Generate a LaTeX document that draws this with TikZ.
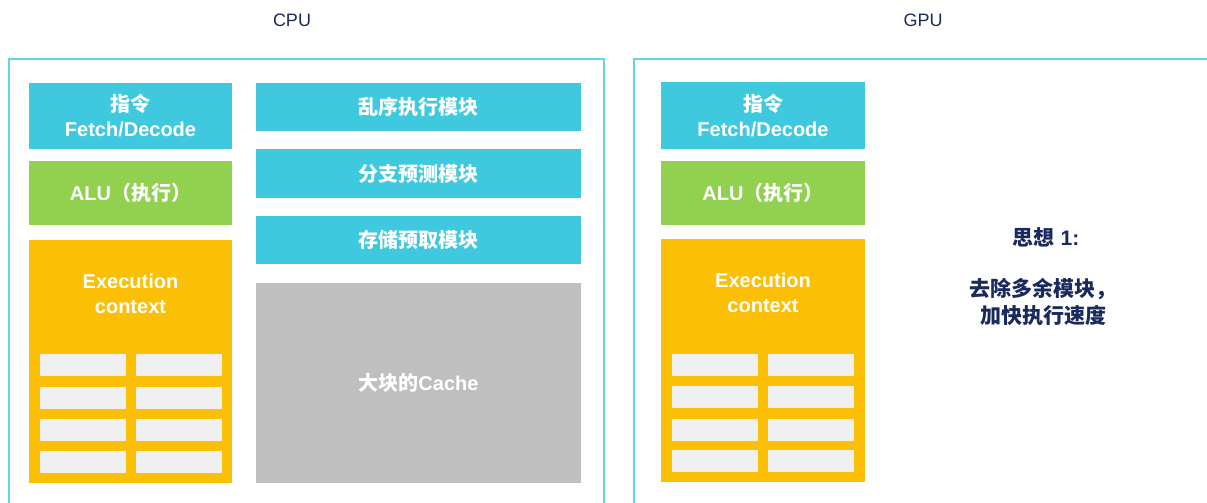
\documentclass[tikz,border=0pt]{standalone}
\usepackage{fontspec}
\setmainfont{Liberation Sans}
\newfontfamily\cjk{Noto Sans CJK SC}
\newcommand\zh[1]{{\cjk #1}}
\definecolor{cyanbox}{HTML}{3FC9DE}
\definecolor{greenbox}{HTML}{92D050}
\definecolor{amberbox}{HTML}{FBBF05}
\definecolor{cellgrey}{HTML}{F0F0F0}
\definecolor{cachegrey}{HTML}{BFBFBF}
\definecolor{framecol}{HTML}{62D4E6}
\definecolor{navy}{HTML}{1B2A5C}
\begin{document}
\begin{tikzpicture}[x=1pt,y=-1pt,
  box/.style={draw=none, inner sep=0pt, text=white, align=center,
    font=\fontsize{20}{25}\selectfont\bfseries},
  cellbox/.style={draw=none, fill=cellgrey, inner sep=0pt, minimum width=86pt, minimum height=22pt},
  frame/.style={draw=framecol, line width=1.6pt},
  title/.style={text=navy, font=\fontsize{18}{22}\selectfont},
  idea/.style={text=navy, align=center, font=\fontsize{21}{27}\selectfont\bfseries}]
\useasboundingbox (0,0) rectangle (1207,503);
\clip (0,0) rectangle (1207,503);
% frames
\node[frame, minimum width=595pt, minimum height=470pt, inner sep=0pt, anchor=north west] (cpuframe) at (8,58) {};
\node[frame, minimum width=600pt, minimum height=470pt, inner sep=0pt, anchor=north west] (gpuframe) at (633,58) {};
\node[title] (cputitle) at (292,20) {CPU};
\node[title] (gputitle) at (923,20) {GPU};
% CPU left column
\node[box, fill=cyanbox, minimum width=203pt, minimum height=66pt] (cfetch) at (130.5,116) {\zh{指令}\\Fetch/Decode};
\node[box, fill=greenbox, minimum width=203pt, minimum height=64pt] (calu) at (130.5,193) {ALU\zh{（执行）}};
\node[box, fill=amberbox, minimum width=203pt, minimum height=243pt] (cexec) at (130.5,361.5) {};
\node[box] (cexect) at (130.5,293.5) {Execution\\context};
\foreach \r/\y in {1/365,2/398,3/430,4/462}{
  \node[cellbox] (cc\r a) at (82.5,\y) {};
  \node[cellbox] (cc\r b) at (179,\y) {};
}
% CPU right column
\node[box, fill=cyanbox, minimum width=325pt, minimum height=48pt] (cooo) at (418.5,107) {\zh{乱序执行模块}};
\node[box, fill=cyanbox, minimum width=325pt, minimum height=49pt] (cbp) at (418.5,173.5) {\zh{分支预测模块}};
\node[box, fill=cyanbox, minimum width=325pt, minimum height=48pt] (cpf) at (418.5,240) {\zh{存储预取模块}};
\node[box, fill=cachegrey, minimum width=325pt, minimum height=200pt] (ccache) at (418.5,383) {\zh{大块的}Cache};
% GPU column
\node[box, fill=cyanbox, minimum width=204pt, minimum height=67pt] (gfetch) at (763,115.5) {\zh{指令}\\Fetch/Decode};
\node[box, fill=greenbox, minimum width=204pt, minimum height=64pt] (galu) at (763,193) {ALU\zh{（执行）}};
\node[box, fill=amberbox, minimum width=204pt, minimum height=243pt] (gexec) at (763,360.5) {};
\node[box] (gexect) at (763,292.5) {Execution\\context};
\foreach \r/\y in {1/365,2/397,3/429.5,4/461}{
  \node[cellbox] (gc\r a) at (715,\y) {};
  \node[cellbox] (gc\r b) at (811,\y) {};
}
% idea text
\node[idea] (ideahead) at (1046,237) {\zh{思想} 1:};
\node[idea] (ideabody) at (1043,301.5) {\zh{去除多余模块，}\\\zh{加快执行速度}};
\end{tikzpicture}
\end{document}
